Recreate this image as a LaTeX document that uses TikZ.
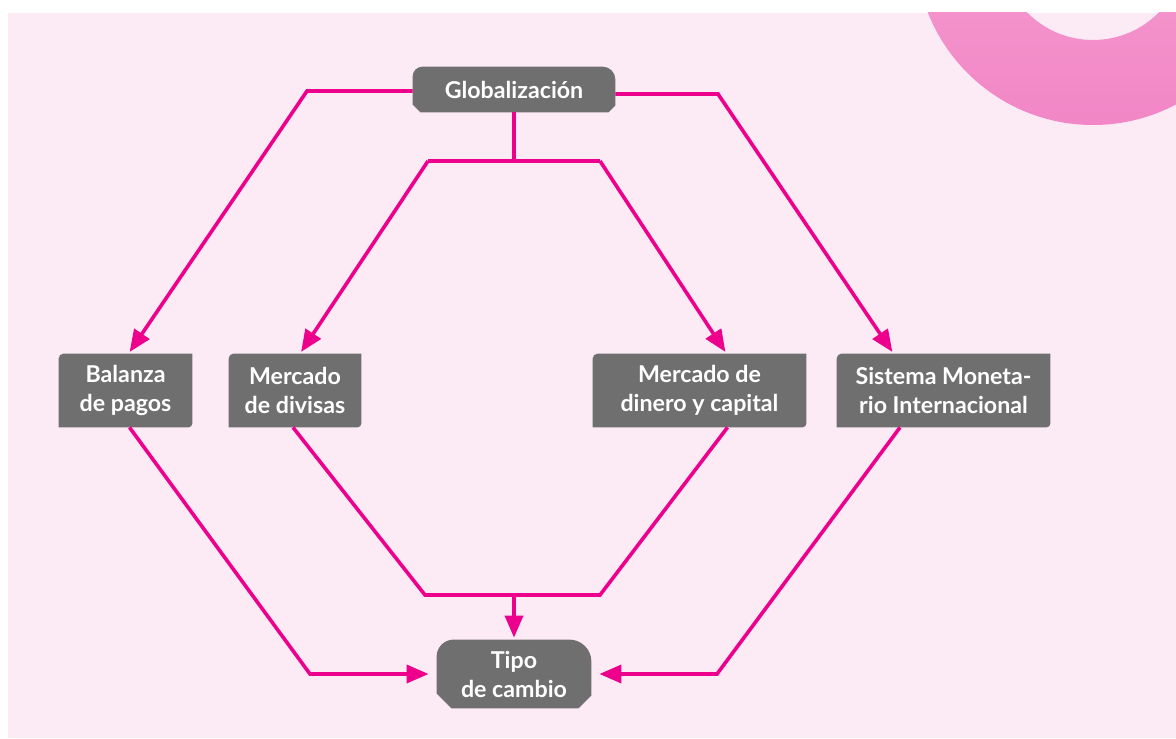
\documentclass[tikz,border=0pt]{standalone}
\usepackage{fontspec}
\setmainfont{Lato}
\usepackage{xcolor}
\usepackage{tikz}
\usetikzlibrary{positioning}
\usetikzlibrary{arrows.meta,backgrounds,calc}
\definecolor{fondo}{RGB}{252,235,245}
\definecolor{magenta}{RGB}{236,0,140}
\definecolor{gris}{RGB}{112,111,111}
\definecolor{anilloA}{RGB}{247,172,214}
\definecolor{anilloB}{RGB}{242,134,198}
\tikzset{nd/.style={rectangle,align=center,inner sep=0pt,text=white,
    font=\fontsize{11.6}{14.5}\selectfont\bfseries,minimum height=36.5pt}}
\tikzset{ln/.style={draw=magenta,line width=1.8pt}}
\tikzset{>={Triangle[length=11pt,width=9pt]}}

% caja con esquina redondeada arriba-izq y abajo-der
\newcommand\cajamedia[1]{%
  \fill[gris] (#1.south west) -- ([yshift=-2.5pt]#1.north west)
    arc[start angle=180,end angle=90,radius=2.5pt] -- (#1.north east)
    -- ([yshift=2pt]#1.south east) arc[start angle=0,end angle=-90,radius=2pt] -- cycle;}
% caja con arriba redondeada y abajo biselada
\newcommand\cajaext[5]{%
  \fill[gris] ([yshift=#4]#1.south west) -- ([yshift=-#2]#1.north west)
    arc[start angle=180,end angle=90,radius=#2] -- ([xshift=-#3]#1.north east)
    arc[start angle=90,end angle=0,radius=#3] -- ([yshift=#5]#1.south east)
    -- ([xshift=-#5]#1.south east) -- ([xshift=#4]#1.south west) -- cycle;}

\begin{document}
\begin{tikzpicture}[x=0.5pt,y=-0.5pt]
  \useasboundingbox (0,0) rectangle (1176,738);

  \node[nd,minimum width=101pt,minimum height=22.5pt] (glob) at (514,89.5) {Globalización};
  \node[nd,minimum width=66.5pt] (bal) at (125.5,390.5) {Balanza\\de pagos};
  \node[nd,minimum width=66pt] (div) at (295,390.5) {Mercado\\de divisas};
  \node[nd,minimum width=106.5pt] (din) at (699.5,390.5) {Mercado de\\dinero y capital};
  \node[nd,minimum width=106.5pt] (sis) at (943.5,390.5) {Sistema Moneta-\\rio Internacional};
  \node[nd,minimum width=77pt,minimum height=34pt] (tipo) at (514,674) {Tipo\\de cambio};

  \begin{scope}[on background layer]
    \fill[white] (0,0) rectangle (1176,738);
    \fill[fondo] (8,13) rectangle (1176,738);
    \begin{scope}
      \clip (8,13) rectangle (1176,738);
      \shade[top color=anilloA,bottom color=anilloB,even odd rule]
        (1093,-52.5) circle[radius=177.5] (1093,-52.5) circle[radius=92.5];
    \end{scope}
    \foreach \n in {bal,div,din,sis}{
      \cajamedia{\n}
    }
    \cajaext{glob}{5pt}{6.5pt}{4pt}{3.5pt}
    \cajaext{tipo}{8.5pt}{11pt}{7.5pt}{6.5pt}
  \end{scope}

  % ramas de arriba
  \coordinate (gl) at (307,91);
  \coordinate (gr) at (718,94);
  \coordinate (gm) at (514,161);
  \coordinate (gml) at (428,161);
  \coordinate (gmr) at (600,161);
  \draw[ln,->,shorten >=1pt] ([yshift=-0.75pt]glob.west) -- (gl) -- ([xshift=1.5pt]bal.north);
  \draw[ln,->,shorten >=1pt] ([yshift=-2.25pt]glob.east) -- (gr) -- ([xshift=-25pt]sis.north);
  \draw[ln] (glob.south) -- (gm);
  \draw[ln] (gml) -- (gmr);
  \draw[ln,->,shorten >=1pt] (gml) -- ([xshift=2.5pt]div.north);
  \draw[ln,->,shorten >=1pt] (gmr) -- ([xshift=13.5pt]din.north);

  % ramas de abajo
  \coordinate (bl) at (310,674);
  \coordinate (br) at (717,674);
  \coordinate (bm) at (514,595);
  \coordinate (bml) at (425,595);
  \coordinate (bmr) at (600,595);
  \draw[ln,->,shorten >=4pt] ([xshift=2pt]bal.south) -- (bl) -- (tipo.west);
  \draw[ln,->,shorten >=4pt] ([xshift=-21.75pt]sis.south) -- (br) -- (tipo.east);
  \draw[ln] ([xshift=-1pt]div.south) -- (bml) -- (bmr) -- ([xshift=14pt]din.south);
  \draw[ln,->,shorten >=1pt] (bm) -- (tipo.north);
\end{tikzpicture}
\end{document}
